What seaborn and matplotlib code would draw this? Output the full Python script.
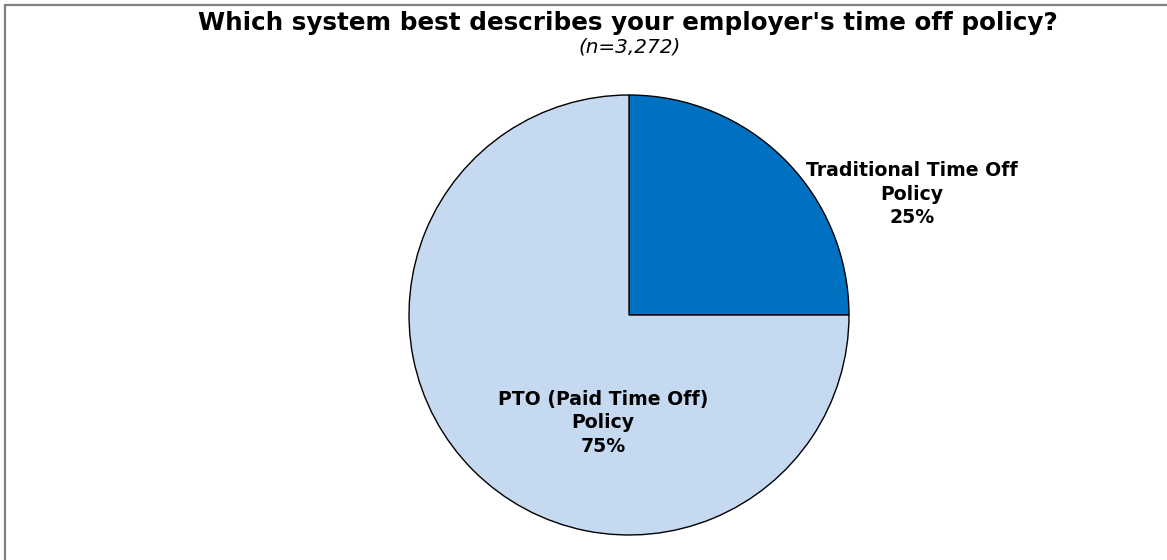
import matplotlib
matplotlib.use("Agg")
import matplotlib.pyplot as plt
import seaborn as sns
from matplotlib.lines import Line2D

categories = ["Traditional Time Off\nPolicy", "PTO (Paid Time Off)\nPolicy"]
shares = [25, 75]
colors = ["#0070C0", "#C5D9F1"]

title = "Which system best describes your employer's time off policy?"
subtitle = "(n=3,272)"

sns.set_theme(style="white")
plt.rcParams["font.family"] = ["DejaVu Sans"]
plt.rcParams["text.color"] = "black"

W, H = 1167, 560
fig = plt.figure(figsize=(W / 100, H / 100), dpi=100)
fig.patch.set_facecolor("white")

# frame: left and top edges of the chart area
fig.add_artist(Line2D([5 / W, 5 / W], [0, 1 - 5 / H], transform=fig.transFigure,
                      color="#808080", lw=1.6))
fig.add_artist(Line2D([5 / W, 1], [1 - 5 / H, 1 - 5 / H], transform=fig.transFigure,
                      color="#808080", lw=1.6))

# pie axes placed in pixel units
cx, cy, r = 629, 315, 220
ax = fig.add_axes([(cx - r) / W, (H - cy - r) / H, 2 * r / W, 2 * r / H])
wedges, _ = ax.pie(shares, colors=colors, startangle=90, counterclock=False,
                   radius=1, wedgeprops=dict(edgecolor="black", linewidth=1.0))
ax.set_xlim(-1, 1)
ax.set_ylim(-1, 1)
ax.set_aspect("equal")
ax.axis("off")

# label centres in pixels -> data units
label_px = [(912, 194), (603, 423)]
for cat, val, (px, py) in zip(categories, shares, label_px):
    ax.text((px - cx) / r, (cy - py) / r, f"{cat}\n{val}%", ha="center",
            va="center", fontsize=13.6, fontweight="bold", linespacing=1.3,
            clip_on=False, color="black")

fig.text(628 / W, 1 - 23 / H, title, ha="center", va="center",
         fontsize=17.7, fontweight="bold", color="black")
fig.text(630 / W, 1 - 47 / H, subtitle, ha="center", va="center",
         fontsize=14.4, fontstyle="italic", color="black")

fig.savefig("out.png", dpi=100, facecolor="white")
